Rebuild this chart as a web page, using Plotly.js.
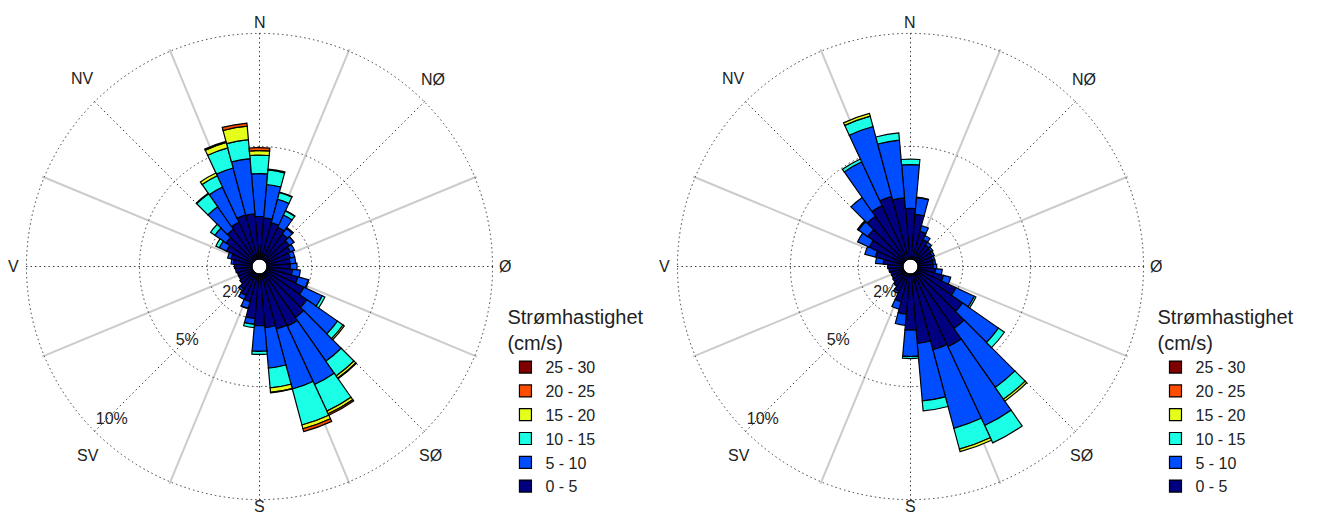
<!DOCTYPE html>
<html>
<head>
<meta charset="utf-8">
<script src="https://cdn.plot.ly/plotly-3.0.1.min.js"></script>
<style>
html,body{margin:0;padding:0;background:#fff;}
#chart{width:1318px;height:515px;}
</style>
</head>
<body>
<div id="chart"></div>
<script>
// ---- data (percent of time, per 10-degree direction sector) ----
const directions = [0,10,20,30,40,50,60,70,80,90,100,110,120,130,140,150,160,170,180,190,200,210,220,230,240,250,260,270,280,290,300,310,320,330,340,350];
const speedClasses = ['0 - 5','5 - 10','10 - 15','15 - 20','20 - 25','25 - 30'];
const compassTicks = [0,45,90,135,180,225,270,315];
const compassLabels = ['N','NØ','Ø','SØ','S','SV','V','NV'];
const diagonalTicks = [22.5,67.5,112.5,157.5,202.5,247.5,292.5,337.5];
const radialTicks = [2,5,10];
const radialLabels = ['2%','5%','10%'];
const legendTitle = 'Strømhastighet<br>(cm/s)';

// left rose
const left0_5   = [1.90,1.85,1.70,1.60,1.45,1.30,1.20,1.10,1.05,1.05,1.15,1.45,1.85,2.25,2.45,2.60,2.55,2.40,2.30,2.00,1.30,1.10,0.90,0.75,0.70,0.70,0.75,0.80,0.85,1.00,1.30,1.50,1.70,1.85,2.05,2.03];
const left5_10  = [1.90,1.48,1.07,0.60,0.30,0.25,0.20,0.20,0.25,0.30,0.35,0.47,0.90,1.65,2.35,2.85,2.75,1.80,1.14,0.26,0.30,0.20,0.10,0,0,0,0,0,0.10,0.15,0.35,0.60,1.22,1.72,2.15,2.45];
const left10_15 = [0.82,0.65,0.31,0.20,0.05,0.01,0,0,0,0,0,0.03,0.13,0.30,0.80,1.30,1.65,0.88,0.14,0.14,0.02,0,0,0,0,0,0,0,0,0,0.17,0.23,0.70,0.55,0.92,0.84];
const left15_20 = [0.20,0.04,0.02,0.02,0,0,0,0,0,0,0,0,0,0.07,0.12,0.13,0.17,0.20,0,0,0,0,0,0,0,0,0,0,0,0,0,0,0.03,0.13,0.25,0.60];
const left20_25 = [0.13,0,0,0,0,0,0,0,0,0,0,0,0,0,0.03,0.07,0.13,0.02,0,0,0,0,0,0,0,0,0,0,0,0,0,0,0,0,0.05,0.14];
const left25_30 = [0,0,0,0,0,0,0,0,0,0,0,0,0,0,0,0,0,0,0,0,0,0,0,0,0,0,0,0,0,0,0,0,0,0,0,0];

// right rose
const right0_5   = [2.26,2.00,1.30,1.00,0.85,0.80,0.75,0.70,0.70,0.70,0.80,1.20,1.90,2.50,3.04,3.60,3.50,3.10,2.50,1.80,1.30,0.90,0.75,0.65,0.60,0.60,0.65,0.70,0.90,1.30,1.70,2.00,2.40,2.66,2.90,2.74];
const right5_10  = [1.94,0.75,0.26,0.20,0.15,0.10,0.10,0.10,0.10,0.15,0.30,0.33,0.90,1.94,3.18,3.85,3.60,2.56,1.17,0.50,0.34,0.10,0,0,0,0,0,0,0.34,0.48,0.57,0.50,1.02,2.14,3.20,2.56];
const right10_15 = [0.24,0.02,0,0,0,0,0,0,0,0,0,0,0.08,0.32,0.64,0.85,0.95,0.44,0.09,0,0,0,0,0,0,0,0,0,0,0,0,0.05,0,0.14,0.48,0.32];
const right15_20 = [0,0,0,0,0,0,0,0,0,0,0,0,0,0,0.10,0,0.12,0,0,0,0,0,0,0,0,0,0,0,0,0,0,0,0,0,0.12,0];
const right20_25 = [0,0,0,0,0,0,0,0,0,0,0,0,0,0,0,0,0,0,0,0,0,0,0,0,0,0,0,0,0,0,0,0,0,0,0,0];
const right25_30 = [0,0,0,0,0,0,0,0,0,0,0,0,0,0,0,0,0,0,0,0,0,0,0,0,0,0,0,0,0,0,0,0,0,0,0,0];

const leftSeries  = [left0_5, left5_10, left10_15, left15_20, left20_25, left25_30];
const rightSeries = [right0_5, right5_10, right10_15, right15_20, right20_25, right25_30];

// ---- styles / layout constants ----
const W = 1318, H = 515;
const classColors = ['#000080','#004dff','#1affe6','#e6ff1a','#ff4d00','#800000'];
const FONT = 'Liberation Sans, Arial, Helvetica, sans-serif';
const TEXT_COLOR = '#222';
const R_MAX = 10.1;
const HOLE = 0.03;
const radialLabelR = [1.32, 4.29, 9.1];
const radialLabelTheta = 224;

const domY = [0.0256, 0.9394];
const domLeft = [0.01836, 0.37542];
const domRight = [0.51229, 0.86935];
const centers = [[259.5, 266.5], [910.5, 266.5]];
// pixel offsets of the compass labels from the rose centre
const compassOffsets = [[0,-244],[173,-187],[245.5,0],[171,188.5],[0,240],[-172,188.5],[-246,0],[-177,-188]];

function gridPolar(domX) {
  return {
    domain: {x: domX, y: domY},
    bgcolor: '#ffffff',
    hole: HOLE,
    radialaxis: {range: [0, R_MAX], tickvals: radialTicks, showticklabels: false, ticks: '',
      showline: false, showgrid: true, gridcolor: '#3a3a3a', griddash: '1.5px,3px', gridwidth: 1.2},
    angularaxis: {rotation: 90, direction: 'clockwise', tickvals: diagonalTicks, showticklabels: false,
      ticks: '', showline: false, showgrid: true, gridcolor: '#cbcbcb', gridwidth: 2.4}
  };
}
function barPolar(domX) {
  return {
    domain: {x: domX, y: domY},
    bgcolor: 'rgba(0,0,0,0)',
    hole: HOLE,
    barmode: 'stack',
    radialaxis: {range: [0, R_MAX], showticklabels: false, ticks: '', showline: false, showgrid: false},
    angularaxis: {rotation: 90, direction: 'clockwise', tickvals: compassTicks, showticklabels: false,
      ticks: '', showline: false, showgrid: true, gridcolor: '#3a3a3a', griddash: '1.5px,3px', gridwidth: 1.2}
  };
}

const data = [];
['polar','polar3'].forEach(sp => {
  data.push({
    type: 'scatterpolar', subplot: sp, mode: 'text',
    r: radialLabelR, theta: radialLabels.map(() => radialLabelTheta), text: radialLabels,
    textfont: {family: FONT, size: 16, color: TEXT_COLOR},
    showlegend: false, hoverinfo: 'skip', cliponaxis: false
  });
});
function addBars(series, sp, lg) {
  series.forEach((vals, i) => {
    data.push({
      type: 'barpolar', subplot: sp, legend: lg,
      name: speedClasses[i],
      theta: directions,
      r: vals.map(v => v === 0 ? null : v),
      width: 10,
      marker: {color: classColors[i], line: {color: '#000', width: 1.2}},
      hoverinfo: 'name+r+theta'
    });
  });
}
addBars(leftSeries, 'polar2', 'legend');
addBars(rightSeries, 'polar4', 'legend2');

function legendCfg(x) {
  return {
    x: x, y: 0.421, xanchor: 'left', yanchor: 'top',
    traceorder: 'reversed', bgcolor: 'rgba(0,0,0,0)', borderwidth: 0,
    font: {family: FONT, size: 16, color: TEXT_COLOR},
    title: {text: legendTitle, font: {family: FONT, size: 20, color: TEXT_COLOR}, side: 'top'}
  };
}

const annotations = [];
centers.forEach(c => {
  compassLabels.forEach((lab, i) => {
    annotations.push({
      xref: 'paper', yref: 'paper',
      x: (c[0] + compassOffsets[i][0]) / W,
      y: 1 - (c[1] + compassOffsets[i][1]) / H,
      xanchor: 'center', yanchor: 'middle', showarrow: false,
      text: lab, font: {family: FONT, size: 16, color: TEXT_COLOR}
    });
  });
});

const layout = {
  width: W, height: H,
  margin: {l: 0, r: 0, t: 0, b: 0},
  paper_bgcolor: '#ffffff',
  font: {family: FONT, color: TEXT_COLOR},
  showlegend: true,
  polar: gridPolar(domLeft),
  polar2: barPolar(domLeft),
  polar3: gridPolar(domRight),
  polar4: barPolar(domRight),
  legend: legendCfg(0.3835),
  legend2: legendCfg(0.8767),
  annotations: annotations
};

Plotly.newPlot('chart', data, layout, {displayModeBar: false});
</script>
</body>
</html>
